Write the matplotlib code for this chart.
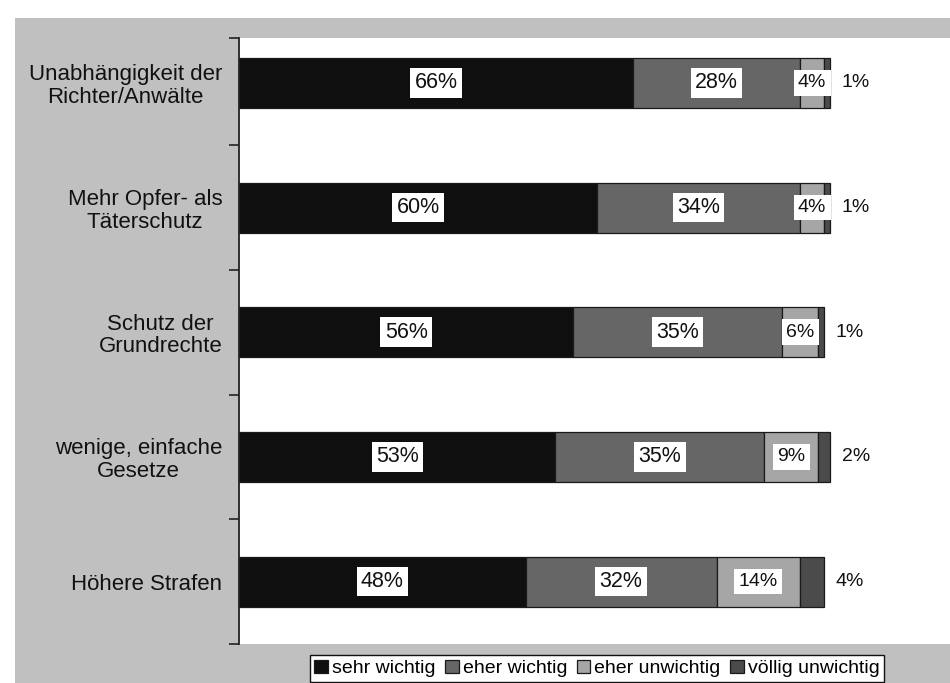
import matplotlib
matplotlib.use("Agg")
import matplotlib.pyplot as plt
from matplotlib.patches import Rectangle
import numpy as np

plt.rcParams['font.family'] = ['Liberation Sans', 'DejaVu Sans']

categories = [
    "Unabhängigkeit der\nRichter/Anwälte",
    "Mehr Opfer- als\nTäterschutz",
    "Schutz der\nGrundrechte",
    "wenige, einfache\nGesetze",
    "Höhere Strafen",
]
series_names = ["sehr wichtig", "eher wichtig", "eher unwichtig", "völlig unwichtig"]
sehr_wichtig = [66, 60, 56, 53, 48]
eher_wichtig = [28, 34, 35, 35, 32]
eher_unwichtig = [4, 4, 6, 9, 14]
voellig_unwichtig = [1, 1, 1, 2, 4]

series = [sehr_wichtig, eher_wichtig, eher_unwichtig, voellig_unwichtig]
colors = ["#0f0f0f", "#666666", "#a6a6a6", "#4b4b4b"]
label_sizes = [15.5, 15.5, 14, 14]
box_pads = [0.2, 0.2, 0.22, 0]

fig = plt.figure(figsize=(9.5, 6.83), dpi=100)
fig.patch.set_facecolor("white")
# grey chart-area background
fig.patches.append(Rectangle((15 / 950, 0), 1 - 15 / 950, 1 - 18 / 683,
                             transform=fig.transFigure, facecolor="#c0c0c0",
                             edgecolor="none", zorder=-5))

ax = fig.add_axes([239 / 950, 39 / 683, 1 - 239 / 950, (683 - 39 - 38) / 683])
ax.set_zorder(2)
ax.set_facecolor("white")

y = np.arange(len(categories))
left = np.zeros(len(categories))
for vals, name, col, fs, pad, k in zip(series, series_names, colors, label_sizes,
                                       box_pads, range(4)):
    vals = np.array(vals, dtype=float)
    ax.barh(y, vals, left=left, height=0.4, color=col, edgecolor="#1a1a1a",
            linewidth=0.9, label=name, zorder=2)
    for yi, v, l in zip(y, vals, left):
        if k < 3:
            ax.text(l + v / 2, yi, f"{int(v)}%", ha="center", va="center",
                    fontsize=fs, color="#111111", zorder=3,
                    bbox=dict(boxstyle=f"square,pad={pad}", fc="white", ec="none"))
        else:
            ax.text(l + v + 2.0, yi, f"{int(v)}%", ha="left", va="center",
                    fontsize=fs, color="#111111", zorder=3)
    left = left + vals

ax.set_xlim(0, 119.1)
ax.set_ylim(4.5, -0.36)
ax.set_xticks([])

# boundary ticks between categories, labels at category centres
ax.set_yticks([-0.36, 0.5, 1.5, 2.5, 3.5, 4.5])
ax.set_yticklabels([])
ax.tick_params(axis="y", which="major", length=7, width=1.2, color="#222222",
               direction="out")
ax.set_yticks(y, minor=True)
ax.set_yticklabels(categories, minor=True, fontsize=16, color="#111111",
                   linespacing=1.1, multialignment="center")
ax.tick_params(axis="y", which="minor", length=0, pad=12)

for side in ["top", "right", "bottom"]:
    ax.spines[side].set_visible(False)
ax.spines["left"].set_linewidth(1.3)
ax.spines["left"].set_color("#222222")

leg = fig.legend(loc="upper center", bbox_to_anchor=(597 / 950, (683 - 655) / 683),
                 ncol=4, fontsize=14, frameon=True, fancybox=False,
                 edgecolor="#111111", facecolor="white", framealpha=1,
                 handlelength=0.7, handleheight=0.7, handletextpad=0.2,
                 columnspacing=0.5, borderpad=0.25, borderaxespad=0)
leg.get_frame().set_linewidth(1.0)
leg.set_zorder(3)

fig.savefig("out.png", dpi=100, facecolor=fig.get_facecolor())
